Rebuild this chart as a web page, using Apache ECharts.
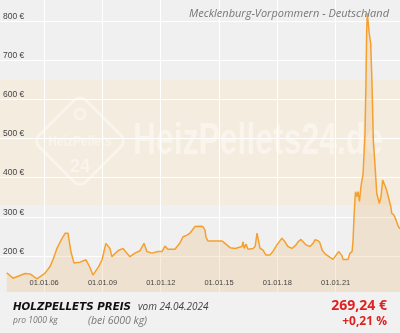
<!DOCTYPE html>
<html><head><meta charset="utf-8">
<script src="https://cdn.jsdelivr.net/npm/echarts@6/dist/echarts.min.js"></script>
<style>html,body{margin:0;padding:0;background:#f0f0f0}#c{width:400px;height:333px}</style>
</head><body><div id="c"></div>
<script>
const dates = ['2004-01-28','2004-05-25','2004-10-04','2005-01-07','2005-04-10','2005-08-19','2006-01-18','2006-04-18','2006-06-15','2006-09-01','2006-12-04','2007-02-01','2007-03-25','2007-05-18','2007-07-15','2007-11-06','2008-02-27','2008-05-09','2008-07-06','2008-10-27','2008-12-24','2009-03-06','2009-05-21','2009-06-27','2009-10-18','2010-01-21','2010-06-01','2010-09-03','2010-12-06','2011-02-21','2011-04-15','2011-07-18','2011-11-09','2012-01-24','2012-03-21','2012-05-15','2012-09-24','2012-12-27','2013-02-24','2013-05-09','2013-07-03','2013-10-06','2014-01-09','2014-03-03','2014-04-12','2014-05-01','2014-06-06','2014-10-18','2015-02-27','2015-04-06','2015-07-27','2015-11-01','2016-03-06','2016-03-27','2016-04-15','2016-05-21','2016-06-27','2016-10-01','2016-11-09','2016-12-15','2017-01-21','2017-02-09','2017-04-06','2017-06-01','2017-08-15','2017-10-12','2017-12-24','2018-02-21','2018-03-27','2018-05-24','2018-07-18','2018-10-03','2018-12-18','2019-01-24','2019-03-21','2019-04-27','2019-06-24','2019-09-06','2019-11-03','2019-12-09','2020-02-06','2020-03-12','2020-04-21','2020-06-15','2020-09-18','2020-11-12','2021-01-09','2021-03-03','2021-05-01','2021-05-18','2021-06-24','2021-08-21','2021-09-27','2021-11-06','2021-11-24','2021-12-12','2022-01-01','2022-01-09','2022-02-06','2022-02-24','2022-03-24','2022-04-21','2022-06-01','2022-07-06','2022-07-24','2022-08-06','2022-08-18','2022-09-24','2022-10-21','2022-11-09','2022-11-27','2022-12-09','2023-01-12','2023-02-12','2023-04-01','2023-05-03','2023-06-03','2023-07-03','2023-08-06','2023-09-18','2023-11-03','2023-11-21','2024-01-03','2024-02-09','2024-03-24','2024-04-24'];
const prices = [157,143,150,155,154,141,156,172,190,220,245,258,258,211,182,184,190,171,151,174,190,232,219,198,213,219,198,207,213,232,211,207,211,211,225,217,217,233,249,253,258,275,276,275,266,248,238,238,238,234,221,219,224,236,219,230,217,219,224,258,262,219,215,202,202,212,228,239,245,236,224,219,228,236,242,241,228,224,232,241,239,233,215,205,196,191,202,211,200,191,194,191,207,211,241,300,350,364,351,364,339,377,411,513,642,770,820,769,743,667,573,496,428,360,334,351,394,394,373,351,326,309,304,292,275,269.24];
const yTicks = [200,300,400,500,600,700,800];
const xTickDates = ['2006-01-01','2009-01-01','2012-01-01','2015-01-01','2018-01-01','2021-01-01'];
const bandRange = [330, 650];
const titleText = 'Mecklenburg-Vorpommern - Deutschland';
const productLabel = 'HOLZPELLETS PREIS';
const dateLabel = 'vom 24.04.2024';
const unitLabel = 'pro 1000 kg';
const qtyLabel = '(bei 6000 kg)';
const priceLabel = '269,24 €';
const changeLabel = '+0,21 %';

const chart = echarts.init(document.getElementById('c'), null, {renderer: 'canvas'});
const parseT = d => (echarts.time && echarts.time.parse) ? +echarts.time.parse(d) : +new Date(d);
const seriesData = dates.map((d, i) => [d, prices[i]]);
const gridLines = yTicks.map(v => ({yAxis: v})).concat(xTickDates.map(d => ({xAxis: d})));
const wm = 'rgba(255,255,255,0.42)';

chart.setOption({
  animation: false,
  backgroundColor: '#f0f0f0',
  grid: {left: 0, right: 0, top: 0, bottom: 38, containLabel: false},
  xAxis: {
    type: 'time', min: '2003-09-24', max: '2024-04-24', z: 3,
    axisLine: {show: false}, axisTick: {show: false}, splitLine: {show: false},
    axisLabel: {
      inside: true, margin: 8, customValues: xTickDates.map(parseT),
      formatter: '{dd}.{MM}.{yy}', fontSize: 7.5, color: '#444', fontFamily: 'Liberation Sans',
      showMinLabel: true, showMaxLabel: true
    }
  },
  yAxis: {
    type: 'value', min: 100, max: 854, interval: 100, z: 3,
    axisLine: {show: false}, axisTick: {show: false}, splitLine: {show: false},
    axisLabel: {
      inside: true, margin: 3, verticalAlign: 'bottom', fontSize: 8.5, color: '#444',
      fontFamily: 'Liberation Sans', formatter: v => v + ' €', showMinLabel: false, showMaxLabel: false
    }
  },
  series: [{
    type: 'line', z: 2, showSymbol: false, symbol: 'none', data: seriesData,
    lineStyle: {color: '#f5a02e', width: 1.5},
    areaStyle: {color: 'rgba(233,176,100,0.32)'},
    markArea: {z: 1, silent: true, itemStyle: {color: '#f4ecde'}, data: [[{yAxis: bandRange[0]}, {yAxis: bandRange[1]}]]},
    markLine: {z: 1.5, silent: true, symbol: ['none', 'none'], label: {show: false},
      lineStyle: {color: '#ffffff', width: 1, type: 'solid', opacity: 1}, data: gridLines}
  }],
  graphic: [
    {type: 'rect', z: 1.2, x: 80, y: 141, rotation: Math.PI / 4, shape: {x: -33, y: -33, width: 66, height: 66, r: 8},
      style: {fill: 'none', stroke: wm, lineWidth: 3}},
    {type: 'circle', z: 1.2, shape: {cx: 80, cy: 114, r: 5}, style: {fill: 'none', stroke: wm, lineWidth: 2.5}},
    {type: 'text', z: 1.2, x: 80, y: 142, scaleX: 0.8, style: {text: 'HeizPellets', font: 'bold 15px "Liberation Sans"', fill: wm, textAlign: 'center', textVerticalAlign: 'middle'}},
    {type: 'text', z: 1.2, x: 80, y: 167, style: {text: '24', font: 'bold 18px "Liberation Sans"', fill: wm, textAlign: 'center', textVerticalAlign: 'middle'}},
    {type: 'text', z: 1.2, x: 133, y: 142, scaleX: 0.725, style: {text: 'HeizPellets24.de', font: 'bold 44px "Liberation Sans"', fill: wm, textAlign: 'left', textVerticalAlign: 'middle'}},
    {type: 'text', z: 10, x: 389, y: 14, style: {text: titleText, font: 'italic 11px "Open Sans"', fill: '#777', textAlign: 'right', textVerticalAlign: 'middle'}},
    {type: 'rect', z: 100, shape: {x: 0, y: 292, width: 400, height: 41}, style: {fill: '#f1f1f1'}},
    {type: 'text', z: 101, x: 13, y: 307, style: {text: productLabel, font: 'italic bold 10.3px "DejaVu Sans"', fill: '#111', textAlign: 'left', textVerticalAlign: 'middle'}},
    {type: 'text', z: 101, x: 138, y: 307, style: {text: dateLabel, font: 'italic 10px "Open Sans"', fill: '#444', textAlign: 'left', textVerticalAlign: 'middle'}},
    {type: 'text', z: 101, x: 13, y: 321, style: {text: unitLabel, font: 'italic 8.5px "Open Sans"', fill: '#777', textAlign: 'left', textVerticalAlign: 'middle'}},
    {type: 'text', z: 101, x: 88, y: 321, style: {text: qtyLabel, font: 'italic 10.5px "Open Sans"', fill: '#777', textAlign: 'left', textVerticalAlign: 'middle'}},
    {type: 'text', z: 101, x: 387, y: 306.5, style: {text: priceLabel, font: 'bold 14px "Open Sans"', fill: '#dd2222', textAlign: 'right', textVerticalAlign: 'middle'}},
    {type: 'text', z: 101, x: 387, y: 321.5, style: {text: changeLabel, font: 'bold 12px "Open Sans"', fill: '#dd2222', textAlign: 'right', textVerticalAlign: 'middle'}}
  ]
});
</script></body></html>
